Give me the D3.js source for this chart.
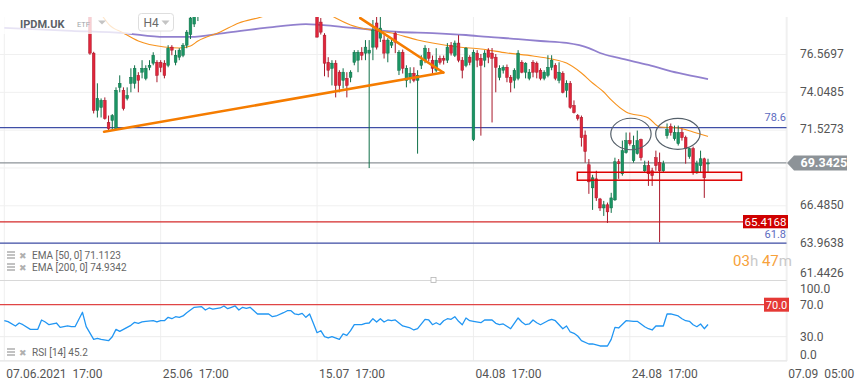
<!DOCTYPE html>
<html><head><meta charset="utf-8">
<script src="https://cdn.jsdelivr.net/npm/d3@7"></script>
<style>
body{margin:0;background:#fff;}
svg{display:block;font-family:Roboto,"Noto Sans",sans-serif;}
</style>
</head><body>
<svg id="c" width="859" height="385"></svg>
<script>
// ---------- DATA ----------
const symbol = "IPDM.UK", assetType = "ETF", interval = "H4";
// time axis (bar index -> label)
const timeTickBars = [0, 42, 84, 126, 168, 210];
const timeTickLabels = ["07.06.2021  17:00", "25.06  17:00", "15.07  17:00", "04.08  17:00", "24.08  17:00", "07.09  05:00"];
// price axis
const priceTicks = [76.5697, 74.0485, 71.5273, 69.0061, 66.4850, 63.9638, 61.4426];
const priceTickLabels = ["76.5697", "74.0485", "71.5273", "", "66.4850", "63.9638", "61.4426"];
const lastPrice = 69.3425;
const supportLevel = 65.4168;
const fibLevels = [71.69, 63.99];
const fibLabels = ["78.6", "61.8"];
// candles [open, high, low, close] per H4 bar
const ohlc = [
[79.6,79.9,79.4,79.7],[79.7,80.0,79.5,79.8],[79.8,79.9,79.4,79.5],[79.5,79.7,79.2,79.3],[79.3,79.8,79.3,79.7],
[79.7,79.9,79.4,79.5],[79.5,79.6,79.2,79.3],[79.3,79.5,79.15,79.2],[79.2,79.5,79.15,79.4],[79.4,79.5,79.15,79.2],
[79.2,79.9,79.2,79.8],[79.8,79.9,79.5,79.6],[79.6,79.7,79.3,79.4],[79.4,79.7,79.3,79.6],[79.6,79.7,79.25,79.3],
[79.3,79.5,79.2,79.4],[79.4,79.5,79.2,79.25],[79.25,79.4,79.2,79.35],[79.35,79.45,79.2,79.3],[79.3,79.4,79.2,79.3],
[79.3,80.3,79.3,80.1],[80.1,80.2,79.3,79.4],[79.4,79.6,79.1,79.2],[79.2,79.3,76.55,76.66],[76.66,76.75,72.64,72.84],
[72.84,74.65,72.37,73.64],[73.04,73.64,72.37,73.51],[73.51,73.71,72.23,72.30],[72.04,72.5,71.5,71.63],[72.17,72.6,71.5,72.5],
[71.63,74.38,71.55,74.18],[74.38,75.18,74.05,74.65],[74.18,74.38,72.84,72.97],[73.64,74.38,73.51,73.84],[74.65,75.65,74.05,75.05],
[74.65,75.85,74.3,75.65],[75.18,75.39,74.05,74.85],[75.39,76.19,74.98,75.65],[74.98,75.85,74.85,75.65],[75.72,76.19,75.52,75.85],
[75.99,76.72,75.85,76.52],[76.05,76.19,74.72,75.18],[76.05,76.19,75.39,75.72],[75.99,76.19,74.98,75.18],[75.85,77.19,75.72,76.99],
[77.06,77.19,76.52,76.86],[76.05,76.86,75.85,76.52],[76.39,76.99,76.19,76.86],[76.52,77.33,76.39,77.19],[77.19,78.2,76.99,78.06],
[77.9,79.1,77.6,79.0],[78.6,79.3,78.4,79.1],[79.1,79.5,78.8,79.4],[79.4,79.9,79.3,79.8],[79.8,79.9,79.5,79.6],
[79.6,80.1,79.5,80.0],[80.0,80.1,79.7,79.9],[79.9,80.3,79.8,80.2],[80.2,80.5,80.1,80.4],[80.4,80.9,80.3,80.8],
[80.8,80.9,80.5,80.6],[80.6,81.0,80.5,80.9],[80.9,81.4,80.8,81.3],[81.3,81.4,80.9,81.0],[81.0,81.5,80.9,81.4],
[81.4,81.6,81.2,81.3],[81.3,81.7,81.2,81.6],[81.6,81.7,81.1,81.2],[81.2,81.3,80.8,80.9],[80.9,81.1,80.7,81.0],
[81.0,81.1,80.8,80.9],[80.9,81.0,80.6,80.7],[80.7,80.8,80.3,80.4],[80.4,80.7,80.3,80.6],[80.6,80.7,80.4,80.5],
[80.5,81.0,80.4,80.9],[80.9,81.3,80.8,81.2],[81.2,81.4,81.0,81.1],[81.1,81.2,80.7,80.8],[80.8,80.9,80.6,80.7],
[80.7,81.0,80.6,80.9],[80.9,81.0,80.3,80.4],[80.4,80.8,80.3,80.7],[80.7,80.8,79.6,79.7],[79.7,79.8,77.7,77.73],
[78.73,79.0,77.9,78.06],[77.86,77.99,75.12,75.99],[76.05,76.39,75.05,75.52],[75.65,76.19,74.51,75.99],[75.99,76.19,73.71,74.51],
[75.39,75.52,74.05,74.51],[74.85,75.65,74.31,75.39],[74.98,75.39,73.71,74.51],[75.05,75.52,74.72,75.39],[76.05,76.86,75.85,76.72],
[76.19,76.86,75.39,76.72],[76.72,77.06,76.19,76.52],[76.66,77.53,76.19,77.06],[76.66,77.53,69.0,76.86],[77.06,78.87,76.19,78.2],
[78.67,79.07,76.9,77.06],[77.66,79.07,77.4,78.33],[77.53,77.86,76.3,76.66],[76.66,77.66,76.05,77.53],[77.19,77.6,77.0,77.39],
[77.99,78.1,76.66,77.39],[75.52,76.86,75.2,76.72],[76.72,76.9,75.3,75.65],[74.85,75.85,74.38,75.65],[74.98,75.72,74.65,75.32],
[75.32,75.72,74.72,74.85],[74.85,75.52,69.96,75.18],[75.85,76.52,75.6,76.19],[76.19,77.19,75.99,76.99],[76.72,77.0,76.1,76.32],
[76.19,76.5,75.3,75.65],[75.52,76.99,75.39,76.19],[76.3,76.5,75.9,76.05],[76.32,76.5,75.9,76.19],[76.19,77.33,76.0,77.06],
[77.19,77.4,76.5,76.66],[76.52,77.5,76.4,77.33],[77.33,77.86,76.05,76.19],[76.19,76.4,74.98,75.52],[75.85,77.06,75.72,76.99],
[76.39,76.52,75.85,76.05],[70.9,76.9,70.8,76.72],[76.66,76.86,75.72,76.19],[76.32,76.6,71.16,75.85],[76.19,76.86,75.72,76.66],
[76.86,76.99,75.99,76.39],[76.66,77.0,72.04,76.32],[76.39,76.6,74.05,75.72],[75.05,75.85,74.85,75.65],[75.52,75.85,75.3,75.72],
[75.72,75.9,74.72,75.05],[75.05,75.2,74.05,74.72],[74.85,75.65,74.31,75.52],[74.98,76.86,74.85,76.66],[76.05,76.19,75.32,75.39],
[75.39,76.05,74.98,75.99],[74.98,75.6,74.85,75.39],[76.05,76.19,75.05,75.39],[75.99,76.1,74.98,75.39],[75.52,75.65,74.85,74.98],
[74.98,75.52,74.85,75.39],[75.18,76.52,75.05,75.72],[75.72,76.52,75.52,76.19],[75.85,75.99,74.85,74.98],[74.85,76.05,74.65,75.39],
[75.32,75.45,73.98,74.05],[74.18,74.85,73.71,74.65],[74.65,74.8,72.95,73.04],[73.17,73.51,72.64,72.7],[72.5,72.6,72.17,72.3],
[72.37,72.5,70.43,71.03],[71.2,71.5,69.36,70.1],[69.22,69.6,67.28,68.08],[67.68,68.55,66.21,68.35],[68.28,68.82,66.81,67.01],
[66.94,67.01,66.14,66.34],[66.34,66.81,65.81,66.55],[66.55,66.7,65.34,66.08],[66.34,67.35,66.01,67.01],[66.88,69.69,66.81,69.42],
[69.42,69.6,68.28,69.29],[68.62,70.83,68.49,70.16],[70.03,71.37,69.96,70.83],[70.83,71.37,70.5,70.63],[69.49,71.16,69.36,70.5],
[69.96,71.5,69.9,70.83],[70.9,70.96,69.5,69.69],[68.82,69.49,68.68,69.16],[69.16,69.49,67.81,68.62],[68.82,69.02,67.81,68.49],
[69.69,70.16,68.82,69.16],[69.36,70.03,64.06,68.82],[68.82,69.49,68.68,69.29],[71.16,71.97,70.96,71.57],[71.77,71.97,71.16,71.37],
[70.96,71.83,70.83,71.37],[70.63,71.83,70.5,71.37],[71.37,71.63,70.83,71.03],[71.03,71.16,69.29,70.3],[69.76,70.36,69.62,70.3],
[70.3,70.43,68.55,68.68],[68.68,69.49,68.62,69.29],[69.16,70.16,68.68,69.62],[69.62,69.69,67.01,68.35],[69.3,69.62,68.68,69.34]
];
// EMA lines [bar, value]
const ema50 = [[26,79.27],[28,78.6],[32,78.0],[36,77.47],[43,77.07],[47,77.0],[50,77.14],[52,77.47],[58,78.07],[63,78.67],[69,79.07],[75,79.6],[80,79.9],[85,79.6],[89,79.0],[93,78.54],[97,78.27],[104,78.0],[111,77.54],[115,77.34],[122,77.07],[128,76.94],[135,76.67],[142,76.47],[147,76.27],[151,76.0],[155,75.34],[158,74.67],[161,74.07],[163,73.54],[167,72.74],[173,72.34],[176,71.74],[181,71.67],[185,71.4],[189,71.1123]];
const ema200 = [[0,78.34],[18,78.15],[32,78.0],[43,77.74],[50,77.74],[59,78.0],[70,78.34],[81,78.60],[85,78.54],[91,78.40],[97,78.27],[106,78.07],[115,78.0],[124,77.87],[130,77.74],[138,77.60],[144,77.47],[151,77.34],[157,77.0],[160,76.67],[165,76.34],[173,75.87],[181,75.34],[189,74.9342]];
const emaLegend = ["EMA [50, 0] 71.1123", "EMA [200, 0] 74.9342"];
// RSI(14) [bar, value]
const rsi = [[0,50.0],[1,48.8],[3,43.4],[4,47.1],[5,45],[7,39.2],[9,39.2],[10,50.9],[11,48.4],[12,45],[14,47.1],[15,41.7],[17,43.4],[18,42.5],[19,42.5],[21,60.5],[22,42.5],[24,26.7],[25,28],[26,26.7],[28,25],[29,30],[30,39.2],[31,36.7],[32,39.2],[34,44.2],[35,48],[36,46.7],[37,48.4],[38,49.2],[40,50],[41,48.4],[42,50],[43,50],[44,54.2],[45,52.5],[46,55],[47,54.2],[48,55.9],[49,60],[51,66.7],[53,67.5],[54,63.4],[55,65.9],[56,64.6],[58,65.9],[59,68.4],[60,65],[61,66.7],[62,68.4],[63,63.4],[64,66.7],[65,65.5],[66,66.7],[68,58.4],[70,58.4],[71,58.4],[72,55],[73,55.9],[75,60],[76,62.5],[77,62.5],[78,58.4],[79,57.5],[80,59.2],[81,54.2],[82,58.4],[83,46.7],[84,35],[85,37.5],[86,30],[87,28.4],[88,30],[90,26.7],[91,33.4],[92,31.7],[93,37.5],[94,45],[96,45],[97,46.7],[98,47.1],[99,52.5],[100,48.4],[101,52.5],[102,48.4],[103,50.9],[104,50],[105,50.9],[107,43.4],[109,40.9],[110,38.4],[111,40],[113,51.7],[114,50.9],[115,45],[116,47.5],[117,45],[118,50],[119,52.5],[120,51.7],[121,55],[122,49.2],[123,45],[124,53.4],[125,50],[126,49.2],[128,47.5],[129,50.9],[131,50.9],[132,46.7],[133,45],[134,45.9],[136,40],[138,53.4],[139,48.4],[140,45],[141,45.9],[142,50.9],[143,47.5],[144,45],[146,50],[147,51.7],[148,50],[149,45],[150,40],[151,43.4],[152,35.9],[153,34.2],[154,30.9],[155,25],[157,20.9],[158,20.9],[160,18.4],[162,18.4],[163,26.7],[164,41.7],[165,40.9],[167,50],[169,49.2],[170,49.2],[172,42.5],[173,40],[174,38.4],[175,43.4],[176,43.4],[177,43.4],[178,58.4],[179,58.4],[181,55.9],[182,52.5],[183,50],[184,49.2],[185,45],[186,42.5],[187,45.9],[188,40],[189,45.2]];
const rsiTicks = [100, 70, 30, 0];
const rsiTickLabels = ["100.0", "70.0", "30.0", "0.0"];
const rsiLevel = 70;
const rsiLegend = "RSI [14] 45.2";
// drawings [bar, value]
const trendUp = [[26.8,71.42],[117.9,75.37]];
const trendDown = [[95.6,79.0],[117.9,75.37]];
const zoneBars = [153.9, 198], zoneVals = [68.19, 68.72];
const ellipses = [[168.3,71.27,5.42,1.05],[180.9,71.28,5.96,1.03]]; // bar, value, bar radius, value radius
const timer = ["03","h ","47","m"];

// ---------- SCALES ----------
const svg = d3.select("#c");
const plotR = 787, mainTop = 17, mainBot = 280.5, rsiTop = 281, rsiBot = 361;
const x = d3.scaleLinear().domain([0, 210]).range([4.3, 786.2]);
const y = d3.scaleLinear().domain([63.9638, 76.5697]).range([243.6, 54.5]);
const yR = d3.scaleLinear().domain([0, 100]).range([360.7, 280.7]);

const defs = svg.append("defs");
defs.append("clipPath").attr("id","cm").append("rect").attr("x",0).attr("y",mainTop).attr("width",plotR).attr("height",mainBot-mainTop);
defs.append("clipPath").attr("id","cr").append("rect").attr("x",0).attr("y",rsiTop).attr("width",plotR).attr("height",rsiBot-rsiTop);

// ---------- GRID ----------
const grid = svg.append("g");
grid.selectAll(".vg").data(timeTickBars).join("line")
  .attr("x1",d=>x(d)).attr("x2",d=>x(d)).attr("y1",mainTop).attr("y2",rsiBot)
  .attr("stroke","#efefef").attr("stroke-width",1);
grid.selectAll(".hg").data(priceTicks.slice(0,6)).join("line")
  .attr("x1",0).attr("x2",plotR).attr("y1",d=>y(d)).attr("y2",d=>y(d))
  .attr("stroke","#f0f0f0");
grid.selectAll(".rg").data([30,0]).join("line")
  .attr("x1",0).attr("x2",plotR).attr("y1",d=>yR(d)).attr("y2",d=>yR(d))
  .attr("stroke","#ececec");
svg.append("line").attr("x1",0).attr("x2",plotR).attr("y1",mainBot).attr("y2",mainBot).attr("stroke","#d8d8d8");
svg.append("rect").attr("x",431).attr("y",277.5).attr("width",5).attr("height",5).attr("fill","#fff").attr("stroke","#b5b5b5").attr("stroke-width",0.8);

// ---------- MAIN PANEL ----------
const m = svg.append("g").attr("clip-path","url(#cm)");
m.selectAll(".fib").data(fibLevels).join("line")
  .attr("x1",0).attr("x2",plotR).attr("y1",d=>y(d)).attr("y2",d=>y(d))
  .attr("stroke","#3f4ea6").attr("stroke-width",1.3);
m.append("line").attr("x1",0).attr("x2",743).attr("y1",y(supportLevel)).attr("y2",y(supportLevel))
  .attr("stroke","#d42a2a").attr("stroke-width",1.2);
m.append("line").attr("x1",0).attr("x2",plotR).attr("y1",y(lastPrice)).attr("y2",y(lastPrice))
  .attr("stroke","#8d9398").attr("stroke-width",1.3);

const line = d3.line().x(d=>x(d[0])).y(d=>y(d[1])).curve(d3.curveMonotoneX);
m.append("path").attr("d",line(ema200)).attr("fill","none").attr("stroke","#8572c9").attr("stroke-width",1.8).attr("opacity",0.9);
m.append("path").attr("d",line(ema50)).attr("fill","none").attr("stroke","#f7931e").attr("stroke-width",1.1);

// candles
const up = "#1a9463", upS = "#0f7048", dn = "#e0253a", dnS = "#a8182a";
const cg = m.append("g");
cg.selectAll(".wk").data(ohlc).join("line")
  .attr("x1",(d,i)=>x(i)).attr("x2",(d,i)=>x(i))
  .attr("y1",d=>y(d[1])).attr("y2",d=>y(d[2]))
  .attr("stroke",d=>d[3]>=d[0]?upS:dnS).attr("stroke-width",1);
cg.selectAll(".bd").data(ohlc).join("rect")
  .attr("x",(d,i)=>x(i)-1.35).attr("width",2.7)
  .attr("y",d=>y(Math.max(d[0],d[3])))
  .attr("height",d=>Math.max(1,Math.abs(y(d[0])-y(d[3]))))
  .attr("fill",d=>d[3]>=d[0]?up:dn)
  .attr("stroke",d=>d[3]>=d[0]?upS:dnS).attr("stroke-width",0.5);

// trend lines
const tl = d3.line().x(d=>x(d[0])).y(d=>y(d[1]));
[trendUp, trendDown].forEach(t=>{
  m.append("path").attr("d",tl(t)).attr("fill","none").attr("stroke","#f57c00").attr("stroke-width",2.6).attr("stroke-linecap","round");
});
// zone rect
m.append("rect").attr("x",x(zoneBars[0])).attr("width",x(zoneBars[1])-x(zoneBars[0]))
  .attr("y",y(zoneVals[1])).attr("height",y(zoneVals[0])-y(zoneVals[1]))
  .attr("fill","rgba(255,0,0,0.04)").attr("stroke","#dd0000").attr("stroke-width",1.5);
// ellipses
m.selectAll(".el").data(ellipses).join("ellipse")
  .attr("cx",d=>x(d[0])).attr("cy",d=>y(d[1]))
  .attr("rx",d=>x(d[2])-x(0)).attr("ry",d=>y(0)-y(d[3]))
  .attr("fill","none").attr("stroke","#55606a").attr("stroke-width",1.2);

// ---------- RSI PANEL ----------
const r = svg.append("g").attr("clip-path","url(#cr)");
r.append("line").attr("x1",0).attr("x2",765).attr("y1",yR(rsiLevel)).attr("y2",yR(rsiLevel))
  .attr("stroke","#e04545").attr("stroke-width",1.3);
const rl = d3.line().x(d=>x(d[0])).y(d=>yR(d[1]));
r.append("path").attr("d",rl(rsi)).attr("fill","none").attr("stroke","#2196f3").attr("stroke-width",1.3).attr("stroke-linejoin","round");

// ---------- HEADER OVERLAY ----------
svg.append("rect").attr("x",0).attr("y",8).attr("width",132).attr("height",26).attr("fill","#fff").attr("opacity",0.78);
svg.append("text").attr("x",20).attr("y",27.5).attr("font-size",11).attr("font-weight","bold").attr("fill","#5b6168").text(symbol);
svg.append("text").attr("x",77).attr("y",26.5).attr("font-size",7.5).attr("fill","#a0a4a8").text(assetType);
svg.append("path").attr("d","M98,20.5 L106,20.5 L102,24.5 Z").attr("fill","#c4c4c4");
svg.append("rect").attr("x",138.5).attr("y",13.5).attr("width",35).attr("height",17.5).attr("rx",3)
  .attr("fill","#fff").attr("stroke","#dedede");
svg.append("text").attr("x",143.5).attr("y",27).attr("font-size",12).attr("fill","#6a6a6a").text(interval);
svg.append("path").attr("d","M161.5,20.5 L169.5,20.5 L165.5,25 Z").attr("fill","#c4c4c4");

// ---------- AXES ----------
svg.append("line").attr("x1",plotR).attr("x2",plotR).attr("y1",mainTop).attr("y2",rsiBot).attr("stroke","#ececec");
svg.append("line").attr("x1",0).attr("x2",plotR).attr("y1",rsiBot).attr("y2",rsiBot).attr("stroke","#e6e6e6");

const pa = svg.append("g").attr("transform",`translate(797,0)`)
  .call(d3.axisRight(y).tickValues(priceTicks).tickSize(0).tickPadding(3)
  .tickFormat((d,i)=>priceTickLabels[i]));
pa.select(".domain").remove();
pa.selectAll(".tick").attr("transform",d=>`translate(0,${Math.min(y(d)-0.5,273.5)})`);
pa.selectAll("text").attr("font-size",12).attr("fill","#555").attr("font-family","Roboto");

const ra = svg.append("g").attr("transform",`translate(797,0)`)
  .call(d3.axisRight(yR).tickValues(rsiTicks).tickSize(0).tickPadding(3)
  .tickFormat((d,i)=>rsiTickLabels[i]));
ra.select(".domain").remove();
ra.selectAll(".tick").attr("transform",d=>`translate(0,${Math.min(Math.max(yR(d),289),355)})`);
ra.selectAll("text").attr("font-size",12).attr("fill","#555").attr("font-family","Roboto");

const ta = svg.append("g").attr("transform",`translate(0,362)`)
  .call(d3.axisBottom(x).tickValues(timeTickBars).tickSize(0).tickPadding(7)
  .tickFormat((d,i)=>timeTickLabels[i]));
ta.select(".domain").remove();
ta.selectAll("text").attr("font-size",12).attr("fill","#555").attr("text-anchor","start")
  .attr("dx",1.5).attr("font-family","Roboto").style("white-space","pre");

// ---------- LABELS / TAGS ----------
const fibDy = [-6.5, -5.5];
fibLevels.forEach((v,i)=>{
  svg.append("text").attr("x",786).attr("y",y(v)+fibDy[i]).attr("text-anchor","end")
    .attr("font-size",11).attr("fill","#5c6bc0").text(fibLabels[i]);
});
svg.append("rect").attr("x",743).attr("y",y(supportLevel)-6.8).attr("width",45).attr("height",13.3).attr("fill","#cf0000");
svg.append("text").attr("x",765.5).attr("y",y(supportLevel)+4).attr("text-anchor","middle")
  .attr("font-size",11.5).attr("fill","#fff").text(supportLevel.toFixed(4));
const py = y(lastPrice);
svg.append("path").attr("d",`M787,${py} L794,${py-7.5} L847,${py-7.5} L847,${py+7.5} L794,${py+7.5} Z`).attr("fill","#8d9398");
svg.append("text").attr("x",800.5).attr("y",py+4.5).attr("font-size",12.5).attr("font-weight","bold")
  .attr("fill","#fff").text(lastPrice.toFixed(4));
const ry = yR(rsiLevel);
svg.append("rect").attr("x",764).attr("y",ry-7).attr("width",25).attr("height",14).attr("fill","#e53935");
svg.append("text").attr("x",776.5).attr("y",ry+4).attr("text-anchor","middle").attr("font-size",11).attr("fill","#fff").text(rsiLevel.toFixed(1));

// timer (fit to its width in the reference)
const tt = svg.append("text").attr("x",733).attr("y",266).attr("font-size",15).style("white-space","pre");
tt.selectAll("tspan").data(timer).join("tspan").attr("fill",(d,i)=>i%2===0?"#f7a23b":"#c9c9c9").text(d=>d);
const tw = tt.node().getComputedTextLength();
if (tw > 0) tt.attr("font-size", Math.min(16, 15 * 59 / tw));

// legends
function legend(ly, label){
  const g = svg.append("g");
  g.selectAll("rect").data([-3,0,3]).join("rect").attr("x",7).attr("y",d=>ly+d-0.8).attr("width",8).attr("height",1.6).attr("fill","#b3b3b3");
  g.append("text").attr("x",19).attr("y",ly+3.5).attr("font-size",9).attr("fill","#b0b0b0").text("✖");
  g.append("text").attr("x",32).attr("y",ly+3.5).attr("font-size",10).attr("fill","#666").text(label);
}
legend(255, emaLegend[0]);
legend(267, emaLegend[1]);
legend(352, rsiLegend);
</script>
</body></html>
